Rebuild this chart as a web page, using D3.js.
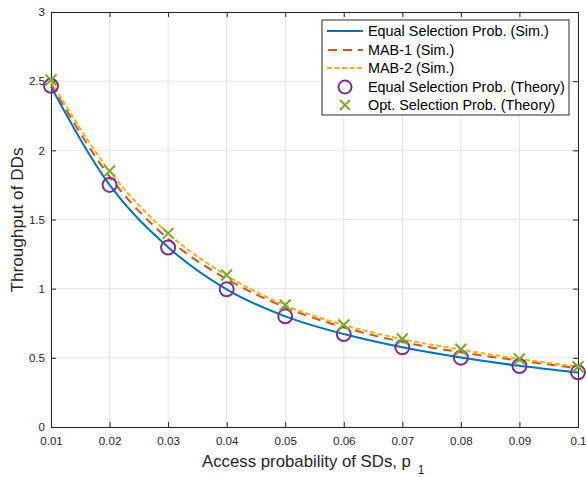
<!DOCTYPE html>
<html><head><meta charset="utf-8">
<script src="https://cdn.jsdelivr.net/npm/d3@7"></script>
<style>body{margin:0;background:#fff}svg{display:block}text{font-family:"Liberation Sans",Arial,sans-serif}</style>
</head><body><svg id="c" width="586" height="477"></svg>
<script>
const pValues = [0.01,0.02,0.03,0.04,0.05,0.06,0.07,0.08,0.09,0.10];
const equalSim = [2.46,1.75,1.30,0.995,0.80,0.672,0.576,0.502,0.442,0.394];
const mab1Sim = [2.48,1.81,1.36,1.07,0.865,0.72,0.615,0.54,0.48,0.425];
const mab2Sim = [2.50,1.85,1.40,1.095,0.88,0.738,0.635,0.56,0.492,0.437];
const equalTheory = [2.466,1.75,1.297,0.995,0.80,0.672,0.576,0.501,0.441,0.395];
const optTheory = [2.509,1.851,1.40,1.099,0.882,0.737,0.636,0.562,0.492,0.436];
const xTicks = [0.01,0.02,0.03,0.04,0.05,0.06,0.07,0.08,0.09,0.1];
const yTicks = [0,0.5,1,1.5,2,2.5,3];
const legendLabels = ["Equal Selection Prob. (Sim.)","MAB-1 (Sim.)","MAB-2 (Sim.)","Equal Selection Prob. (Theory)","Opt. Selection Prob. (Theory)"];

const C = {blue:"#0072BD", red:"#D95319", yellow:"#EDB120", purple:"#7E2F8E", green:"#77AC30", axis:"#262626", grid:"#e3e3e3"};
const L=51,R=578,T=12,B=427;
const svg=d3.select("#c");
const x=d3.scaleLinear().domain([0.01,0.1]).range([L,R]);
const y=d3.scaleLinear().domain([0,3]).range([B,T]);

// grid
svg.append("g").selectAll("line").data(xTicks).join("line")
 .attr("x1",d=>x(d)).attr("x2",d=>x(d)).attr("y1",T).attr("y2",B)
 .attr("stroke",C.grid).attr("stroke-width",1);
svg.append("g").selectAll("line").data(yTicks).join("line")
 .attr("x1",L).attr("x2",R).attr("y1",d=>y(d)).attr("y2",d=>y(d))
 .attr("stroke",C.grid).attr("stroke-width",1);

// axes
const fmt=d=>String(+d.toFixed(2));
const ax=svg.append("g").attr("transform",`translate(0,${B})`).call(d3.axisBottom(x).tickValues(xTicks).tickFormat(fmt).tickSizeInner(-5).tickSizeOuter(0).tickPadding(10));
const ay=svg.append("g").attr("transform",`translate(${L},0)`).call(d3.axisLeft(y).tickValues(yTicks).tickFormat(fmt).tickSizeInner(-5).tickSizeOuter(0).tickPadding(6));
const at=svg.append("g").attr("transform",`translate(0,${T})`).call(d3.axisTop(x).tickValues(xTicks).tickFormat("").tickSizeInner(-5).tickSizeOuter(0));
const ar=svg.append("g").attr("transform",`translate(${R},0)`).call(d3.axisRight(y).tickValues(yTicks).tickFormat("").tickSizeInner(-5).tickSizeOuter(0));
[ax,ay,at,ar].forEach(g=>{g.select(".domain").attr("stroke",C.axis);g.selectAll(".tick line").attr("stroke",C.axis);
 g.selectAll(".tick text").attr("fill",C.axis).attr("font-size",11.6).attr("font-family","Liberation Sans, Arial, sans-serif");});

// lines
const mk=vals=>d3.line().x((d,i)=>x(pValues[i])).y(d=>y(d)).curve(d3.curveMonotoneX)(vals);
svg.append("path").attr("d",mk(equalSim)).attr("fill","none").attr("stroke",C.blue).attr("stroke-width",2);
svg.append("path").attr("d",mk(mab1Sim)).attr("fill","none").attr("stroke",C.red).attr("stroke-width",2).attr("stroke-dasharray","9,6");
svg.append("path").attr("d",mk(mab2Sim)).attr("fill","none").attr("stroke",C.yellow).attr("stroke-width",2).attr("stroke-dasharray","5,2.5");

// markers
svg.append("g").selectAll("circle").data(equalTheory).join("circle")
 .attr("cx",(d,i)=>x(pValues[i])).attr("cy",d=>y(d)).attr("r",7)
 .attr("fill","none").attr("stroke",C.purple).attr("stroke-width",2);
const s=5.5;
svg.append("g").selectAll("path").data(optTheory).join("path")
 .attr("d",(d,i)=>{const cx=x(pValues[i]),cy=y(d);return `M${cx-s},${cy-s}L${cx+s},${cy+s}M${cx-s},${cy+s}L${cx+s},${cy-s}`;})
 .attr("stroke",C.green).attr("stroke-width",2).attr("fill","none");

// labels
svg.append("text").attr("x",306.5).attr("y",466.5).attr("text-anchor","middle").attr("font-size",16.8).attr("fill",C.axis)
 .text("Access probability of SDs, p");
svg.append("text").attr("x",421).attr("y",473.5).attr("text-anchor","middle").attr("font-size",12).attr("fill",C.axis).text("1");
svg.append("text").attr("transform","translate(23,220) rotate(-90)").attr("text-anchor","middle").attr("font-size",17.2).attr("fill",C.axis)
 .text("Throughput of DDs");

// legend
const lg=svg.append("g");
lg.append("rect").attr("x",322).attr("y",20).attr("width",247).attr("height",95).attr("fill","#fff").attr("stroke",C.axis).attr("stroke-width",1);
const ly=[31,50,68,87,105];
legendLabels.forEach((t,i)=>{
  lg.append("text").attr("x",368).attr("y",ly[i]+5).attr("font-size",14.4).attr("fill","#000").text(t);
});
lg.append("line").attr("x1",327).attr("x2",363).attr("y1",ly[0]).attr("y2",ly[0]).attr("stroke",C.blue).attr("stroke-width",2);
lg.append("line").attr("x1",327).attr("x2",363).attr("y1",ly[1]).attr("y2",ly[1]).attr("stroke",C.red).attr("stroke-width",2).attr("stroke-dasharray","9,6").attr("stroke-dashoffset",-1);
lg.append("line").attr("x1",327).attr("x2",363).attr("y1",ly[2]).attr("y2",ly[2]).attr("stroke",C.yellow).attr("stroke-width",2).attr("stroke-dasharray","5,2.5");
lg.append("circle").attr("cx",345).attr("cy",ly[3]).attr("r",6.5).attr("fill","none").attr("stroke",C.purple).attr("stroke-width",2);
const lx=345,lyy=ly[4],s2=5;
lg.append("path").attr("d",`M${lx-s2},${lyy-s2}L${lx+s2},${lyy+s2}M${lx-s2},${lyy+s2}L${lx+s2},${lyy-s2}`).attr("stroke",C.green).attr("stroke-width",2);
</script></body></html>
